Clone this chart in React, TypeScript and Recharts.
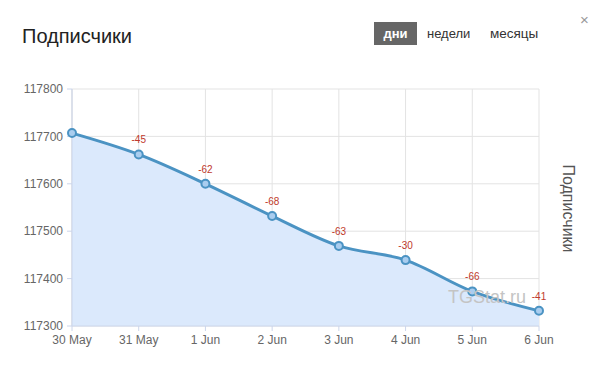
import { AreaChart, Area, XAxis, YAxis, CartesianGrid, LabelList } from 'recharts'

const days = ['30 May', '31 May', '1 Jun', '2 Jun', '3 Jun', '4 Jun', '5 Jun', '6 Jun']
const subscribers = [117707, 117662, 117600, 117532, 117469, 117439, 117373, 117332]
const yTicks = [117300, 117400, 117500, 117600, 117700, 117800]

const data = days.map((day, i) => ({
  day,
  value: subscribers[i],
  delta: i === 0 ? null : subscribers[i] - subscribers[i - 1],
}))

const font = 'Arial, "Liberation Sans", sans-serif'

function DeltaLabel(props: any) {
  const { x, y, index } = props
  const d = data[index]?.delta
  if (d == null) return null
  return (
    <text x={x} y={y - 11} textAnchor="middle" fill="#c0392b" fontSize={10} fontFamily={font}>
      {d}
    </text>
  )
}

// axis title on the right, rotated to read top-down
function RightTitle(props: any) {
  const { viewBox } = props
  const cx = viewBox.x + 29
  const cy = viewBox.y + viewBox.height / 2 + 1
  return (
    <text x={cx} y={cy} transform={`rotate(90 ${cx} ${cy})`} textAnchor="middle" dominantBaseline="central" fill="#555" fontSize={16} fontFamily={font}>
      Подписчики
    </text>
  )
}

export default function App() {
  return (
    <div style={{ position: 'absolute', left: 0, top: 0, width: 604, height: 374, background: '#fff', fontFamily: font }}>
      <div style={{ position: 'absolute', left: 22, top: 25, fontSize: 20, color: '#222' }}>Подписчики</div>
      <div style={{ position: 'absolute', left: 374, top: 22, width: 43, height: 23, background: '#666', color: '#fff', fontSize: 13, fontWeight: 'bold', lineHeight: '23px', textAlign: 'center' }}>дни</div>
      <div style={{ position: 'absolute', left: 427, top: 22, fontSize: 13, color: '#333', lineHeight: '23px' }}>недели</div>
      <div style={{ position: 'absolute', left: 490, top: 22, fontSize: 13.5, color: '#333', lineHeight: '23px' }}>месяцы</div>
      <div style={{ position: 'absolute', left: 580, top: 11, fontSize: 15, color: '#999' }}>×</div>
      <AreaChart width={604} height={374} data={data} margin={{ top: 89, right: 0, left: 0, bottom: 18 }}>
        <CartesianGrid stroke="#e3e3e3" />
        <XAxis
          dataKey="day"
          stroke="#ccd6eb"
          tickLine={{ stroke: '#ccd6eb' }}
          tick={{ fill: '#666', fontSize: 12, fontFamily: font }}
          tickSize={5}
          tickMargin={4}
          height={30}
        />
        <YAxis
          domain={[117300, 117800]}
          ticks={yTicks}
          width={72}
          stroke="#ccd6eb"
          tickLine={{ stroke: '#ccd6eb' }}
          tick={{ fill: '#666', fontSize: 12, fontFamily: font }}
          tickSize={5}
          tickMargin={4}
        />
        <YAxis
          yAxisId="right"
          orientation="right"
          width={65}
          tick={false}
          axisLine={false}
          tickLine={false}
          label={<RightTitle />}
        />
        <Area
          type="monotone"
          dataKey="value"
          stroke="#4b93c3"
          strokeWidth={3}
          fill="#dbe9fc"
          fillOpacity={1}
          dot={{ r: 4, fill: '#a9cdef', stroke: '#4b93c3', strokeWidth: 2 }}
          isAnimationActive={false}
        >
          <LabelList dataKey="value" content={DeltaLabel} />
        </Area>
      </AreaChart>
      <div style={{ position: 'absolute', left: 448, top: 287, fontSize: 18, color: '#c4c4c4' }}>TGStat.ru</div>
    </div>
  )
}
